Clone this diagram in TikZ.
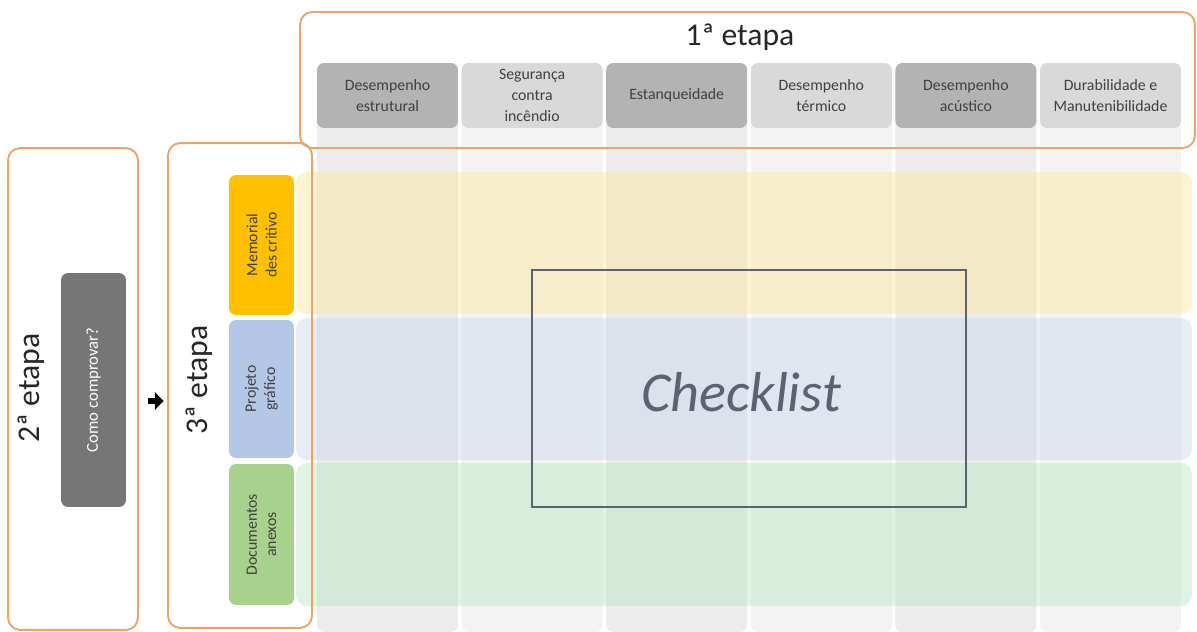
\documentclass[tikz,border=0pt]{standalone}
\usepackage{fontspec}
\setmainfont{Carlito}
\usetikzlibrary{arrows.meta,positioning}
\definecolor{stageorange}{RGB}{236,164,104}
\definecolor{headdark}{RGB}{179,179,179}
\definecolor{headlight}{RGB}{217,217,217}
\definecolor{colshade}{RGB}{236,236,236}
\definecolor{collight}{RGB}{243,243,243}
\definecolor{bandyellow}{RGB}{255,230,153}
\definecolor{bandblue}{RGB}{201,213,238}
\definecolor{bandgreen}{RGB}{184,230,192}
\definecolor{memgold}{RGB}{255,192,0}
\definecolor{projblue}{RGB}{180,199,231}
\definecolor{docgreen}{RGB}{169,209,142}
\definecolor{howgray}{RGB}{118,118,118}
\definecolor{labeltext}{RGB}{64,64,64}
\definecolor{checkline}{RGB}{90,100,112}

\begin{document}
\begin{tikzpicture}[x=0.02cm, y=-0.02cm]
    \tikzstyle{stage}=[draw=stageorange, line width=1.1pt, rounded corners=7pt, inner sep=0pt]
    \tikzstyle{head}=[rounded corners=4pt, minimum width=2.82cm, minimum height=1.3cm, inner sep=1pt, align=center, text=labeltext, font=\fontsize{9}{12}\selectfont]
    \tikzstyle{column}=[rounded corners=4pt, minimum width=2.82cm, minimum height=11.38cm, inner sep=0pt]
    \tikzstyle{band}=[rounded corners=6pt, minimum width=17.92cm, inner sep=0pt, fill opacity=0.45]
    \tikzstyle{rowlab}=[rounded corners=4pt, rotate=90, minimum height=1.3cm, inner sep=1pt, align=center, text=labeltext, font=\fontsize{9}{11}\selectfont]
    \tikzstyle{bigtext}=[text=black!85, font=\fontsize{18}{20}\selectfont]
    \useasboundingbox (0,0) rectangle (1197,632);
    % Grid columns with their headers
    \foreach \i/\tone/\body/\txt in {1/headdark/colshade/{Desempenho\\estrutural},
                                     2/headlight/collight/{Segurança\\contra\\incêndio},
                                     3/headdark/colshade/{Estanqueidade},
                                     4/headlight/collight/{Desempenho\\térmico},
                                     5/headdark/colshade/{Desempenho\\acústico},
                                     6/headlight/collight/{Durabilidade e\\Manutenibilidade}}
    {
        \node[column, fill=\body] (col\i) at ({387.5+(\i-1)*144.6},347.5) {};
        \node[head, fill=\tone] (head\i) at ({387.5+(\i-1)*144.6},95.5) {\txt};
    }
    % Document rows
    \node[band, fill=bandyellow, minimum height=2.84cm] (memband) at (744,243) {};
    \node[band, fill=bandblue, minimum height=2.84cm] (projband) at (744,389) {};
    \node[band, fill=bandgreen, minimum height=2.86cm] (docband) at (744,534.5) {};
    \node[rowlab, fill=memgold, minimum width=2.8cm] (memorial) at (261.5,245) {Memorial\\des critivo};
    \node[rowlab, fill=projblue, minimum width=2.76cm] (projeto) at (261.5,389) {Projeto\\gráfico};
    \node[rowlab, fill=docgreen, minimum width=2.82cm] (documentos) at (261.5,534.5) {Documentos\\anexos};
    % Stages
    \node[stage, minimum width=17.9cm, minimum height=2.72cm] (etapa1) at (747.5,80) {};
    \node[bigtext] (etapa1lab) at (740,37) {1ª etapa};
    \node[stage, minimum width=2.6cm, minimum height=9.64cm] (etapa2) at (73,389) {};
    \node[bigtext, rotate=90] (etapa2lab) at (31,388) {2ª etapa};
    \node[stage, minimum width=2.88cm, minimum height=9.7cm] (etapa3) at (240,385.5) {};
    \node[bigtext, rotate=90] (etapa3lab) at (199,380) {3ª etapa};
    \node[fill=howgray, rounded corners=4pt, rotate=90, minimum width=4.68cm, minimum height=1.3cm, text=white, font=\fontsize{9.5}{11}\selectfont] (howto) at (93.5,390) {Como comprovar?};
    \coordinate (arrowlevel) at (0,401);
    \draw[-{Triangle[length=5pt,width=10pt]}, line width=3.2pt, shorten <=0.18cm, shorten >=0.07cm] (etapa2.east |- arrowlevel) -- (etapa3.west |- arrowlevel);
    % Checklist frame
    \node[draw=checkline, line width=0.8pt, minimum width=8.68cm, minimum height=4.74cm] (checklist) at (749,388.5) {};
    \node[text=checkline, font=\itshape\fontsize{32}{36}\selectfont] (checklisttext) at (741,392) {Checklist};
\end{tikzpicture}
\end{document}
